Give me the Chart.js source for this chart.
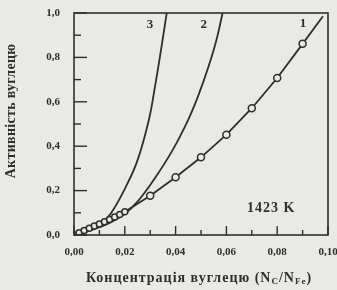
<!DOCTYPE html>
<html>
<head>
<meta charset="utf-8">
<script src="https://cdn.jsdelivr.net/npm/chart.js@4.4.1/dist/chart.umd.min.js"></script>
<style>
  body { margin: 0; background: #e9e9e6; }
  #wrap { width: 337px; height: 290px; }
</style>
</head>
<body>
<div id="wrap"><canvas id="c"></canvas></div>
<script>
// curve 1 (with markers)
const c1x = [0, 0.002, 0.004, 0.006, 0.008, 0.010, 0.012, 0.014, 0.016, 0.018, 0.020, 0.03, 0.04, 0.05, 0.06, 0.07, 0.08, 0.09, 0.098];
const c1y = [0, 0.010, 0.020, 0.030, 0.040, 0.050, 0.060, 0.070, 0.081, 0.092, 0.105, 0.177, 0.26, 0.35, 0.452, 0.571, 0.707, 0.861, 0.985];
// curve 2
const c2x = [0, 0.005, 0.010, 0.015, 0.020, 0.025, 0.0315, 0.0387, 0.045, 0.049, 0.053, 0.056, 0.0585];
const c2y = [0, 0.015, 0.035, 0.060, 0.095, 0.150, 0.250, 0.380, 0.520, 0.630, 0.760, 0.875, 1.0];
// curve 3
const c3x = [0, 0.005, 0.010, 0.0145, 0.0204, 0.025, 0.0295, 0.0322, 0.034, 0.0365];
const c3y = [0, 0.015, 0.045, 0.097, 0.217, 0.336, 0.520, 0.690, 0.815, 1.0];

const curveNames = ["1", "2", "3"];
const tempLabel = "1423 K";
const yTitle = "Активність вуглецю";

const ink = "#2e2e2e";
const bg = "#e9e9e6";

function pts(xs, ys) {
  return xs.map((x, i) => ({ x: x, y: ys[i] }));
}

// where the little labels sit (data units)
const namePos = [[0.0902, 0.95], [0.0511, 0.946], [0.0299, 0.946]];
const tempPos = [0.0776, 0.122];

const decor = {
  id: "decor",
  afterDraw(chart) {
    const ctx = chart.ctx;
    const a = chart.chartArea;
    const xs = chart.scales.x, ys = chart.scales.y;
    ctx.save();
    ctx.strokeStyle = ink;
    ctx.fillStyle = ink;

    // frame
    ctx.lineWidth = 1.6;
    ctx.strokeRect(a.left, a.top, a.right - a.left, a.bottom - a.top);

    // inward ticks
    ctx.lineWidth = 1.4;
    ys.ticks.forEach((t, i) => {
      const y = ys.getPixelForValue(t.value);
      const len = i % 2 === 0 ? 13 : 7;
      ctx.beginPath(); ctx.moveTo(a.left, y); ctx.lineTo(a.left + len, y); ctx.stroke();
    });
    xs.ticks.forEach((t, i) => {
      const x = xs.getPixelForValue(t.value);
      const len = i % 2 === 0 ? 9 : 5;
      ctx.beginPath(); ctx.moveTo(x, a.bottom); ctx.lineTo(x, a.bottom - len); ctx.stroke();
    });

    // curve numbers and temperature
    ctx.font = "bold 13px 'Liberation Serif'";
    ctx.textAlign = "center";
    ctx.textBaseline = "middle";
    curveNames.forEach((n, i) => {
      ctx.fillText(n, xs.getPixelForValue(namePos[i][0]), ys.getPixelForValue(namePos[i][1]));
    });
    ctx.font = "bold 14px 'Liberation Serif'";
    ctx.letterSpacing = "1px";
    ctx.fillText(tempLabel, xs.getPixelForValue(tempPos[0]), ys.getPixelForValue(tempPos[1]));

    // y title
    ctx.save();
    ctx.translate(11, 111);
    ctx.rotate(-Math.PI / 2);
    ctx.font = "bold 14px 'Liberation Serif'";
    ctx.letterSpacing = "0.3px";
    ctx.fillText(yTitle, 0, 0);
    ctx.restore();

    // x title with subscripts
    ctx.letterSpacing = "1px";
    const big = "bold 14px 'Liberation Serif'";
    const small = "bold 9px 'Liberation Serif'";
    const parts = [["Концентрація вуглецю (N", big, 0], ["C", small, 4], ["/N", big, 0], ["Fe", small, 4], [")", big, 0]];
    let w = 0;
    parts.forEach(p => { ctx.font = p[1]; w += ctx.measureText(p[0]).width; });
    let x = 199 - w / 2;
    ctx.textAlign = "left";
    parts.forEach(p => {
      ctx.font = p[1];
      ctx.fillText(p[0], x, 278 + p[2]);
      x += ctx.measureText(p[0]).width;
    });
    ctx.restore();
  }
};

const tickFont = { family: "'Liberation Serif'", size: 11, weight: "bold" };

function noPad(s) {
  s.paddingTop = 0; s.paddingBottom = 0; s.paddingLeft = 0; s.paddingRight = 0;
}

new Chart(document.getElementById("c"), {
  type: "scatter",
  data: {
    datasets: [
      {
        data: pts(c1x, c1y), showLine: true, borderColor: ink, borderWidth: 1.8,
        pointRadius: ctx => ctx.dataIndex === c1x.length - 1 ? 0 : (ctx.dataIndex <= 10 ? 3 : 3.5),
        pointBackgroundColor: bg, pointBorderColor: ink, pointBorderWidth: 1.5
      },
      {
        data: pts(c2x, c2y), showLine: true, borderColor: ink, borderWidth: 1.8,
        pointRadius: 0, tension: 0.4
      },
      {
        data: pts(c3x, c3y), showLine: true, borderColor: ink, borderWidth: 1.8,
        pointRadius: 0, tension: 0.4
      }
    ]
  },
  options: {
    responsive: true,
    maintainAspectRatio: false,
    animation: false,
    layout: { padding: { top: 13, right: 9, left: 0, bottom: 0 } },
    plugins: { legend: { display: false }, tooltip: { enabled: false } },
    scales: {
      x: {
        type: "linear", min: 0, max: 0.1,
        grid: { display: false, drawTicks: false },
        border: { display: false },
        ticks: {
          stepSize: 0.01, autoSkip: false, maxRotation: 0, padding: 11,
          color: ink, font: tickFont,
          callback: (v, i) => i % 2 === 0 ? v.toFixed(2).replace(".", ",") : ""
        },
        afterFit: s => { s.height = 55; noPad(s); }
      },
      y: {
        min: 0, max: 1,
        grid: { display: false, drawTicks: false },
        border: { display: false },
        ticks: {
          stepSize: 0.1, autoSkip: false, padding: 14,
          color: ink, font: tickFont,
          callback: (v, i) => i % 2 === 0 ? v.toFixed(1).replace(".", ",") : ""
        },
        afterFit: s => { s.width = 74; noPad(s); }
      }
    }
  },
  plugins: [decor]
});
</script>
</body>
</html>
